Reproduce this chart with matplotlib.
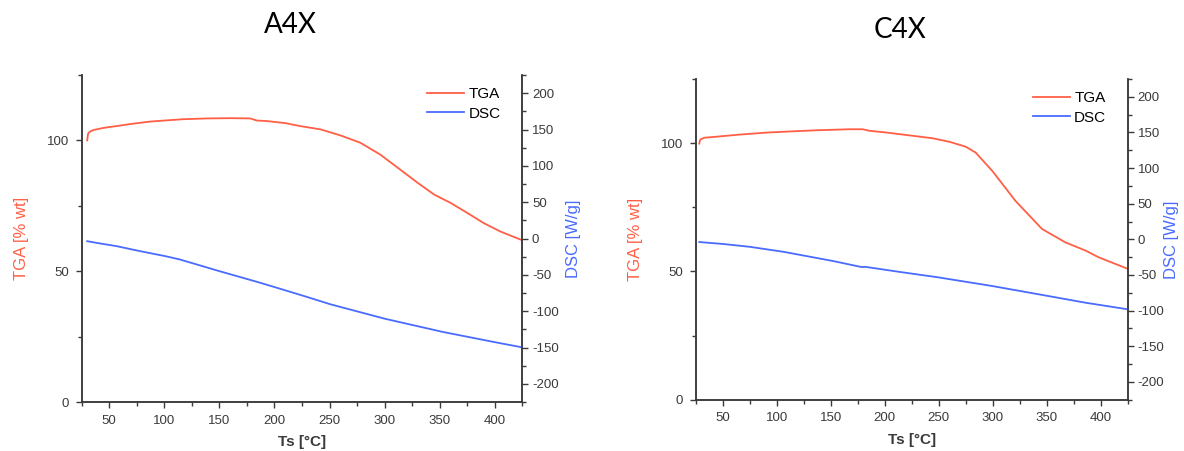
import matplotlib
matplotlib.use("Agg")
import matplotlib.pyplot as plt
from matplotlib.ticker import MultipleLocator

# ---------------- data ----------------
titles = ["A4X", "C4X"]

tga_a_x = [30, 30.6, 31, 33.5, 36, 45, 57, 70, 87, 100, 117, 139, 160, 178, 184, 193,
           210, 223, 242, 260, 278, 296, 314, 330, 345, 360, 375, 390, 405, 424]
tga_a_y = [100, 102.0, 102.8, 103.6, 104.0, 104.8, 105.5, 106.3, 107.2, 107.6, 108.1,
           108.4, 108.5, 108.4, 107.6, 107.4, 106.6, 105.5, 104.2, 101.9, 99.1, 94.6,
           88.9, 83.8, 79.3, 76.1, 72.3, 68.4, 65.2, 62.0]

dsc_a_x = [30, 42, 57, 78, 101, 114, 150, 185, 202, 227, 251, 300, 353, 402, 424]
dsc_a_y = [-3.7, -6.9, -10.6, -17.4, -24.3, -28.8, -44.9, -60.0, -67.7, -79.2, -90.6,
           -110.3, -128.6, -143.2, -149.5]

tga_c_x = [28.3, 28.8, 29.6, 33, 44.4, 65, 90.5, 115, 136.6, 167.3, 179.6, 185.8, 200,
           213.5, 244.2, 260, 275, 284.2, 299.5, 321, 345.7, 367.3, 386, 398, 425]
tga_c_y = [99.8, 100.9, 101.5, 102.1, 102.5, 103.3, 104.1, 104.6, 105.0, 105.4, 105.4,
           104.8, 104.2, 103.5, 101.9, 100.5, 98.6, 96.3, 89.2, 77.5, 66.5, 61.3, 58.1,
           55.5, 51.0]

dsc_c_x = [28.3, 50, 75, 105.8, 152, 178.5, 182, 215, 247.6, 299.4, 351.2, 385.7, 425]
dsc_c_y = [-3.8, -6.5, -10.5, -17.4, -30.4, -38.9, -38.6, -46.0, -52.9, -65.5, -79.5,
           -88.9, -98.2]

panels = [
    (titles[0], tga_a_x, tga_a_y, dsc_a_x, dsc_a_y),
    (titles[1], tga_c_x, tga_c_y, dsc_c_x, dsc_c_y),
]

# ---------------- style ----------------
RED = "#FF5F45"
BLUE = "#4A6BFF"
DARK = "#3a3a3a"
plt.rcParams["font.family"] = ["Liberation Sans", "DejaVu Sans"]
plt.rcParams["axes.unicode_minus"] = False

fig = plt.figure(figsize=(11.84, 4.51), dpi=100)

rects = [[0.069, 0.1086, 0.3721, 0.7251], [0.5876, 0.1138, 0.3649, 0.7111]]
title_pos = [(290 / 1184, 1 - 25 / 451), (900 / 1184, 1 - 30 / 451)]
dsc_pads = [5, -0.5]

for (title, tx, ty, dx, dy), rect, tpos, dpad in zip(panels, rects, title_pos, dsc_pads):
    ax = fig.add_axes(rect)
    ax2 = ax.twinx()

    l1, = ax.plot(tx, ty, color=RED, lw=1.3, label="TGA")
    l2, = ax2.plot(dx, dy, color=BLUE, lw=1.3, label="DSC")

    ax.set_xlim(25, 425)
    ax.set_ylim(0, 125)
    ax2.set_ylim(-225, 225)

    ax.xaxis.set_major_locator(MultipleLocator(50))
    ax.xaxis.set_minor_locator(MultipleLocator(25))
    ax.yaxis.set_major_locator(MultipleLocator(50))
    ax.yaxis.set_minor_locator(MultipleLocator(25))
    ax2.yaxis.set_major_locator(MultipleLocator(50))
    ax2.yaxis.set_minor_locator(MultipleLocator(25))

    for a in (ax, ax2):
        a.spines["top"].set_visible(False)
        for s in a.spines.values():
            s.set_color(DARK)
            s.set_linewidth(1.1)
        a.tick_params(which="major", direction="out", length=4, width=1.0,
                      color=DARK, labelcolor=DARK, labelsize=9.5)
        a.tick_params(which="minor", direction="out", length=3, width=1.0, color=DARK)
    ax.tick_params(axis="y", which="major", pad=5)
    ax.tick_params(axis="x", which="major", pad=5)
    ax2.tick_params(axis="y", which="major", pad=3)

    ax.set_xlabel("Ts [°C]", fontsize=11, fontweight="bold", color=DARK, labelpad=6)
    ax.set_ylabel("TGA [% wt]", fontsize=12, color=RED, labelpad=13)
    ax2.set_ylabel("DSC [W/g]", fontsize=12, color=BLUE, labelpad=dpad)

    ax.legend([l1, l2], ["TGA", "DSC"], loc="upper right", frameon=False,
              fontsize=11, handlelength=2.4, handletextpad=0.3, labelspacing=0.35,
              bbox_to_anchor=(0.975, 0.995), borderaxespad=0.3)

    fig.text(tpos[0], tpos[1], title, ha="center", va="center",
             fontsize=20, family=["Lato", "DejaVu Sans"], color="black")

fig.savefig("out.png", dpi=100)
